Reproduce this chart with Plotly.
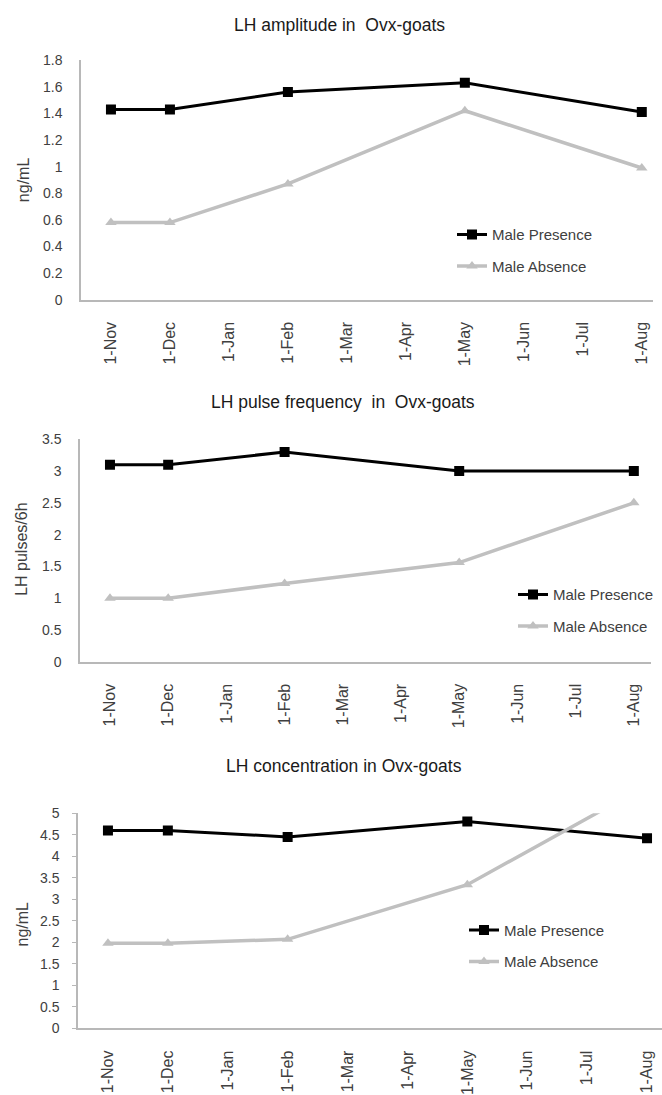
import plotly.graph_objects as go

months = ["1-Nov", "1-Dec", "1-Jan", "1-Feb", "1-Mar", "1-Apr", "1-May", "1-Jun", "1-Jul", "1-Aug"]
sample_months = ["1-Nov", "1-Dec", "1-Feb", "1-May", "1-Aug"]

amp_presence = [1.43, 1.43, 1.56, 1.63, 1.41]
amp_absence = [0.58, 0.58, 0.87, 1.42, 0.99]

freq_presence = [3.1, 3.1, 3.3, 3.0, 3.0]
freq_absence = [1.0, 1.0, 1.23, 1.56, 2.5]

conc_presence = [4.6, 4.6, 4.45, 4.81, 4.42]
conc_absence = [1.98, 1.98, 2.07, 3.34, 5.65]

titles = ["LH amplitude in  Ovx-goats", "LH pulse frequency  in  Ovx-goats", "LH concentration in Ovx-goats"]
ytitles = ["ng/mL", "LH pulses/6h", "ng/mL"]
series_names = ["Male Presence", "Male Absence"]

W, H = 662, 1095
BLACK = "#000000"
GREY = "#c0c0c0"
TXT = "#404040"
AX = "#b8b8b8"
FONT = "Liberation Sans, Arial, sans-serif"

def fx(px):
    return px / W

def fy(py):
    return 1 - py / H

fig = go.Figure()

panels = [
    dict(pres=amp_presence, absn=amp_absence, x0=81, x1=653, xr=[-0.508, 9.19], y0=298.3, y1=53.3, yr=[0, 1.8], dt=0.2,
         yticks="", title_xy=(339, 17), ytitle_xy=(23, 176), leg_xy=(452, 232)),
    dict(pres=freq_presence, absn=freq_absence, x0=80, x1=651, xr=[-0.515, 9.295], y0=668.3, y1=441, yr=[0, 3.5], dt=0.5,
         yticks="", title_xy=(343, 403), ytitle_xy=(22, 554), leg_xy=(513, 600)),
    dict(pres=conc_presence, absn=conc_absence, x0=78, x1=662, xr=[-0.5, 9.25], y0=1043.3, y1=823.3, yr=[0, 5], dt=0.5,
         yticks="outside", title_xy=(344, 775), ytitle_xy=(22, 937), leg_xy=(464, 943)),
]

for i, p in enumerate(panels):
    n = "" if i == 0 else str(i + 1)
    xa, ya = "x" + n, "y" + n
    leg = "legend" + n
    fig.add_trace(go.Scatter(
        x=sample_months, y=p["pres"], name=series_names[0], xaxis=xa, yaxis=ya,
        mode="lines+markers", line=dict(color=BLACK, width=3),
        marker=dict(symbol="square", size=10, color=BLACK),
        legend=leg, legendgroup="p" + n))
    fig.add_trace(go.Scatter(
        x=sample_months, y=p["absn"], name=series_names[1], xaxis=xa, yaxis=ya,
        mode="lines+markers", line=dict(color=GREY, width=3.5),
        marker=dict(symbol="triangle-up", size=10, color=GREY),
        legend=leg, legendgroup="a" + n))

    fig.update_layout({
        "xaxis" + n: dict(
            domain=[fx(p["x0"]), min(1.0, fx(p["x1"]))], anchor=ya,
            type="category", categoryorder="array", categoryarray=months,
            range=p["xr"], showgrid=False, zeroline=False,
            showline=True, linecolor=AX, linewidth=1.5, ticks="",
            tickangle=-90, tickfont=dict(family=FONT, size=16, color=TXT),
            ticklabelstandoff=14,
        ),
        "yaxis" + n: dict(
            domain=[fy(p["y0"]), fy(p["y1"])], anchor=xa,
            range=p["yr"], dtick=p["dt"], showgrid=False, zeroline=False,
            showline=True, linecolor=AX, linewidth=1.5,
            ticks=p["yticks"], ticklen=4, tickcolor=AX, tickwidth=1,
            tickfont=dict(family=FONT, size=14, color=TXT),
            ticklabelstandoff=14 if p["yticks"] == "" else 10,
        ),
        leg: dict(
            x=fx(p["leg_xy"][0]), y=fy(p["leg_xy"][1] - 17), xanchor="left", yanchor="top",
            bgcolor="rgba(0,0,0,0)", font=dict(family=FONT, size=15, color=TXT),
            tracegroupgap=9, traceorder="grouped",
        ),
    })

    fig.add_annotation(text=titles[i], x=fx(p["title_xy"][0]), y=fy(p["title_xy"][1]),
                       xref="paper", yref="paper", showarrow=False,
                       xanchor="center", yanchor="middle",
                       font=dict(family=FONT, size=17.5, color="#1a1a1a"))
    fig.add_annotation(text=ytitles[i], x=fx(p["ytitle_xy"][0]), y=fy(p["ytitle_xy"][1]),
                       xref="paper", yref="paper", showarrow=False, textangle=-90,
                       xanchor="center", yanchor="middle",
                       font=dict(family=FONT, size=16, color=TXT))

fig.update_layout(
    width=W, height=H, autosize=False,
    margin=dict(l=0, r=0, t=0, b=0),
    paper_bgcolor="white", plot_bgcolor="white",
    showlegend=True,
)

fig.write_html("out.html", config={"displayModeBar": False},
               post_script="document.body.style.margin='0px';")
